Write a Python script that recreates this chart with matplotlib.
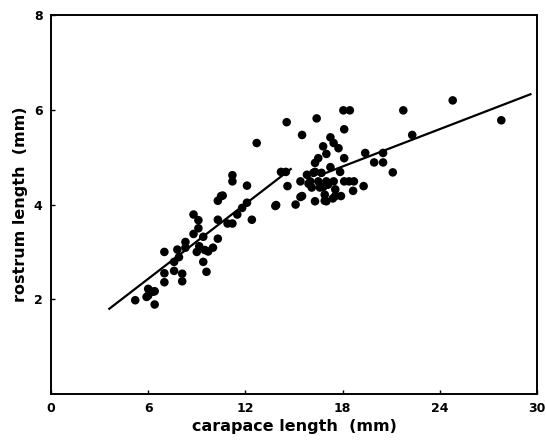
import os
os.environ["MPLBACKEND"] = "Agg"

import matplotlib.pyplot as plt
import numpy as np

# carapace length (mm) vs rostrum length (mm)
carapace = [
    5.2, 6.0, 6.0, 6.4, 6.4, 5.9, 7.0, 7.0, 7.0, 7.6, 7.6, 7.8, 7.9, 8.1, 8.1,
    8.3, 8.3, 8.8, 8.8, 9.1, 9.1, 9.0, 9.15, 9.4, 9.4, 9.6, 9.7, 10.0, 10.3,
    10.3, 10.3, 10.6, 10.9, 11.2, 11.2, 11.2, 11.5, 11.8, 12.1, 12.1, 12.4,
    12.7, 13.9, 14.2, 14.5, 14.55, 14.6, 15.1, 15.4, 15.5, 15.5, 15.8, 16.0,
    16.1, 16.3, 16.3, 16.3, 16.4, 16.5, 16.5, 16.6, 16.7, 16.8, 16.9, 17.0,
    17.0, 17.0, 17.1, 17.25, 17.25, 17.45, 17.45, 17.55, 17.55, 17.75, 17.85,
    17.9, 18.05, 18.45, 18.1, 18.1, 18.1, 18.4, 18.7, 18.65, 19.4, 19.3, 19.95,
    20.5, 20.5, 21.1, 21.75, 22.3, 24.8, 27.8,
    16.2, 15.9, 16.8, 17.4, 16.9, 15.4, 6.3, 9.5, 10.5, 13.85,
]
rostrum = [
    1.98, 2.22, 2.08, 2.17, 1.89, 2.05, 3.0, 2.55, 2.36, 2.79, 2.6, 3.05, 2.89,
    2.54, 2.38, 3.21, 3.09, 3.79, 3.38, 3.67, 3.5, 3.0, 3.12, 3.32, 2.79, 2.58,
    3.01, 3.09, 3.28, 3.68, 4.08, 4.19, 3.6, 3.6, 4.49, 4.62, 3.79, 3.93, 4.04,
    4.4, 3.68, 5.3, 3.99, 4.69, 4.69, 5.74, 4.39, 4.0, 4.49, 4.18, 5.47, 4.63,
    4.49, 4.36, 4.88, 4.69, 4.07, 5.82, 4.98, 4.49, 4.36, 4.67, 5.23, 4.21,
    4.07, 5.07, 4.49, 4.42, 5.42, 4.79, 5.3, 4.49, 4.32, 4.18, 5.19, 4.69, 4.18,
    5.99, 5.99, 5.59, 4.98, 4.49, 4.49, 4.49, 4.29, 5.09, 4.39, 4.89, 4.89,
    5.09, 4.68, 5.99, 5.47, 6.2, 5.78,
    4.67, 4.44, 4.37, 4.13, 4.08, 4.16, 2.16, 3.04, 4.18, 3.97,
]

# two fitted segments (juvenile / adult)
fit1_x = [3.6, 14.8]
fit1_y = [1.8, 4.75]
fit2_x = [16.6, 29.6]
fit2_y = [4.62, 6.33]

xticks = [0, 6, 12, 18, 24, 30]
yticks = [2, 4, 6, 8]

fig = plt.figure(figsize=(5.46, 4.41), dpi=100)
ax = fig.add_axes([0.0934, 0.1066, 0.890, 0.859])

ax.scatter(carapace, rostrum, s=38, color="black", edgecolors="none", zorder=3)
ax.plot(fit1_x, fit1_y, color="black", linewidth=1.6, zorder=2)
ax.plot(fit2_x, fit2_y, color="black", linewidth=1.6, zorder=2)

ax.set_xlim(0, 30)
ax.set_ylim(0, 8)
ax.set_xticks(xticks)
ax.set_yticks(yticks)
ax.tick_params(direction="in", length=3, width=1, labelsize=9, pad=6)
for lab in ax.get_xticklabels() + ax.get_yticklabels():
    lab.set_fontweight("bold")
for s in ax.spines.values():
    s.set_linewidth(1.4)

ax.set_xlabel("carapace length  (mm)", fontsize=11.5, fontweight="bold", labelpad=3)
ax.set_ylabel("rostrum length  (mm)", fontsize=11.5, fontweight="bold", labelpad=4)

fig.savefig("out.png", dpi=100)
